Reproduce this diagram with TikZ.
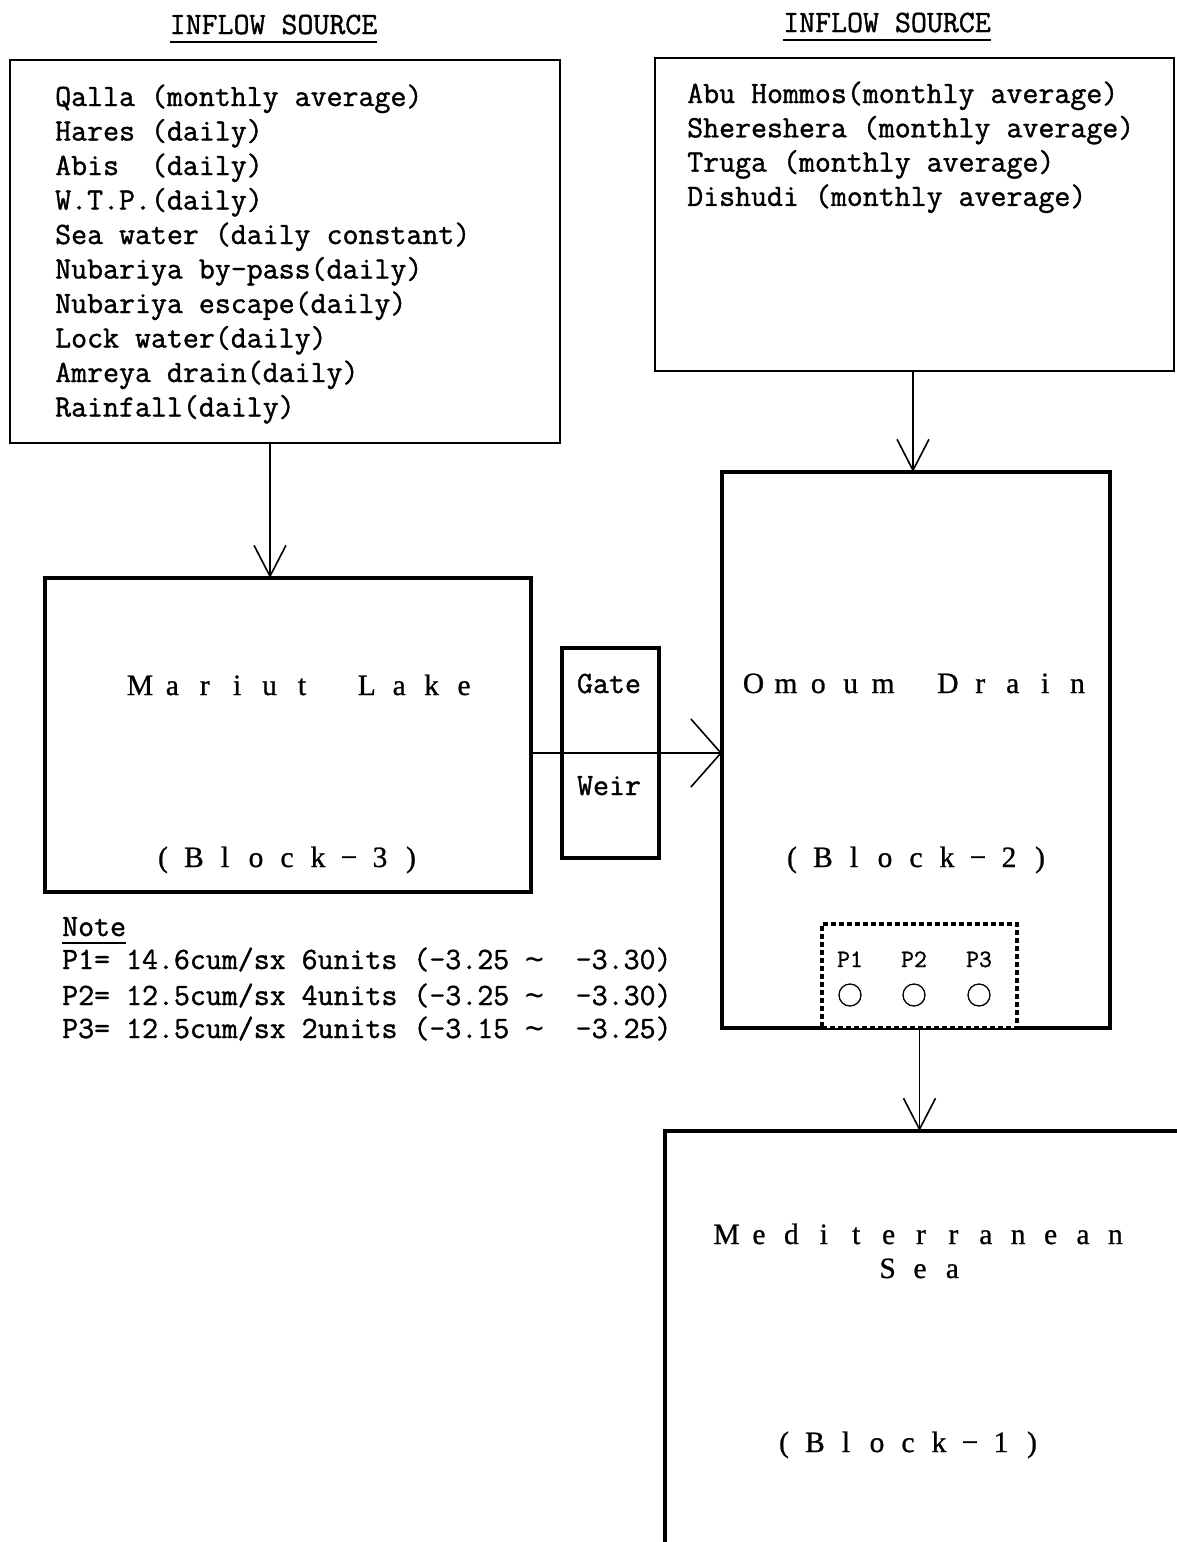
\documentclass[tikz,border=0pt]{standalone}
\usepackage{fontspec}
\setmainfont{Liberation Serif}
\newfontfamily\monof[FakeBold=1.2]{Latin Modern Mono}
\newfontfamily\blockf[FakeBold=0.8]{Liberation Serif}
\newfontfamily\symf{DejaVu Sans Mono}
\usetikzlibrary{arrows.meta,calc}
% letters set one per fixed-width cell (wide-spaced block titles)
\makeatletter
\newcommand\fw[2][32.4pt]{\@tfor\fwch:=#2\do{\makebox[#1][c]{\fwch}}}
\makeatother
\begin{document}
\begin{tikzpicture}[x=1pt,y=-1pt,
  srcbox/.style={draw,line width=1.8pt,inner sep=0pt,outer sep=0pt},
  blockbox/.style={draw,line width=4pt,inner sep=0pt,outer sep=0pt},
  pumpbox/.style={draw,fill=white,line width=3.5pt,dash pattern=on 5pt off 3pt,inner sep=0pt,outer sep=0pt},
  pumpmark/.style={draw,circle,minimum size=22pt,line width=1.3pt,inner sep=0pt},
  mono/.style={inner sep=0pt,anchor=base west,font=\monof\fontsize{31}{34}\selectfont},
  smallmono/.style={inner sep=0pt,anchor=base,font=\monof\fontsize{25}{30}\selectfont},
  blocktext/.style={inner sep=0pt,anchor=base,font=\blockf\fontsize{29.5}{34}\selectfont},
  uline/.style={line width=1.3pt},
  flow/.style={line width=1.6pt,-{Straight Barb[length=31pt,width=32pt,line width=1.6pt]}},
  flowh/.style={line width=1.6pt,-{Straight Barb[length=30pt,width=68pt,line width=1.6pt]}}]

\useasboundingbox (0,0) rectangle (1176,1542);
\fill[white] (0,0) rectangle (1176,1542);

% boxes
\node[srcbox,minimum width=550pt,minimum height=383pt] (srcL) at (285,251.5) {};
\node[srcbox,minimum width=519pt,minimum height=313pt] (srcR) at (914.5,214.5) {};
\node[blockbox,minimum width=486pt,minimum height=314pt] (mariut) at (288,735) {};
\node[blockbox,minimum width=97pt,minimum height=210pt] (gate) at (610.5,753) {};
\node[blockbox,minimum width=388pt,minimum height=556pt] (omoum) at (916,750) {};
\node[blockbox,minimum width=515pt,minimum height=414pt] (sea) at (922.5,1338) {};
\node[pumpbox,minimum width=195pt,minimum height=104pt] (pumps) at (919.5,976) {};

% headings
\node[mono,anchor=base] (titleL) at (273.5,34) {INFLOW SOURCE};
\draw[uline] ($(titleL.base west)+(0,8)$) -- ($(titleL.base east)+(0,8)$);
\node[mono,anchor=base] (titleR) at (887,32) {INFLOW SOURCE};
\draw[uline] ($(titleR.base west)+(0,8)$) -- ($(titleR.base east)+(0,8)$);

% inflow lists
\foreach \t [count=\i] in {Qalla (monthly average), Hares (daily), Abis\ \ (daily),
    W.T.P.(daily), Sea water (daily constant), Nubariya by-pass(daily),
    Nubariya escape(daily), Lock water(daily), Amreya drain(daily), Rainfall(daily)}
  \node[mono] (srcL\i) at (55,{106+34.5*(\i-1)}) {\t};
\foreach \t [count=\i] in {Abu Hommos(monthly average), Shereshera (monthly average),
    Truga (monthly average), Dishudi (monthly average)}
  \node[mono] (srcR\i) at (687,{103+34.3*(\i-1)}) {\t};

% block titles
\node[blocktext] (mariutT) at (302,695) {\fw{Mariut}\hspace*{32.4pt}\fw{Lake}};
\node[blocktext] (mariutB) at (287,867) {\fw[31pt]{(Block−3)}};
\node[blocktext] (omoumT) at (915.5,693) {\fw{Omoum}\hspace*{32.4pt}\fw{Drain}};
\node[blocktext] (omoumB) at (916,867) {\fw[31pt]{(Block−2)}};
\node[blocktext] (seaT1) at (921,1244) {\fw{Mediterranean}};
\node[blocktext] (seaT2) at (920,1278) {\fw{Sea}};
\node[blocktext] (seaB) at (908,1452) {\fw[31pt]{(Block−1)}};

% gate / weir
\node[mono,anchor=base] (gateT) at (609,693) {Gate};
\node[mono,anchor=base] (weirT) at (609,795) {Weir};

% pumps
\foreach \x [count=\i] in {850,914,979} {
  \node[smallmono] (plab\i) at (\x,967) {P\i};
  \node[pumpmark] (pump\i) at (\x,995) {};
}

% note
\node[mono] (note) at (62,936) {Note};
\draw[uline] ($(note.base west)+(0,7)$) -- ($(note.base east)+(0,7)$);
\node[mono] (note1) at (62,969) {P1= 14.6cum/sx 6units (-3.25 {\symf ∼}\ \ -3.30)};
\node[mono] (note2) at (62,1005) {P2= 12.5cum/sx 4units (-3.25 {\symf ∼}\ \ -3.30)};
\node[mono] (note3) at (62,1038) {P3= 12.5cum/sx 2units (-3.15 {\symf ∼}\ \ -3.25)};

% flows
\coordinate (xa) at (270,0);
\coordinate (xb) at (913,0);
\draw[flow] (srcL.south -| xa) -- (mariut.north -| xa);
\draw[flow] (srcR.south -| xb) -- (omoum.north -| xb);
\draw[flowh] (mariut.east |- gate.center) -- (omoum.west |- gate.center);
\draw[flow] (pumps.south) -- (sea.north -| pumps.south);
\end{tikzpicture}
\end{document}
